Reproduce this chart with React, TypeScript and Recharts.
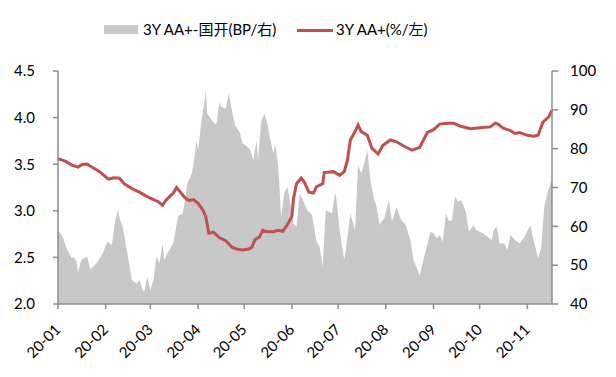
import React from 'react';
import { ComposedChart, Area, Line, XAxis, YAxis, Legend } from 'recharts';

// Days since 2020-01-01 for month starts, and their labels
const monthTicks = [0, 31, 60, 91, 121, 152, 182, 213, 244, 274, 305];
const monthLabels = ['20-01', '20-02', '20-03', '20-04', '20-05', '20-06', '20-07', '20-08', '20-09', '20-10', '20-11'];
const leftTicks = [2.0, 2.5, 3.0, 3.5, 4.0, 4.5];
const rightTicks = [40, 50, 60, 70, 80, 90, 100];

const seriesNames = ['3Y AA+-国开(BP/右)', '3Y AA+(%/左)'];

// 3Y AA+ yield (%), left axis
const yieldDays = [0, 5, 9, 13, 16, 19, 23, 27, 32, 33, 36, 40, 43, 49, 53, 57, 62, 65, 68, 70, 73, 75, 77, 79, 82, 85, 88, 91, 94, 96, 98, 101, 105, 109, 113, 116, 120, 124, 126, 128, 131, 133, 136, 140, 143, 146, 149, 152, 153, 155, 158, 160, 163, 166, 168, 172, 173, 179, 183, 186, 188, 190, 193, 195, 197, 201, 204, 208, 211, 216, 220, 224, 230, 235, 240, 244, 248, 253, 257, 261, 268, 274, 281, 284, 286, 289, 294, 297, 300, 305, 309, 312, 315, 319, 321];
const yieldValues = [3.56, 3.53, 3.49, 3.47, 3.50, 3.50, 3.46, 3.42, 3.35, 3.34, 3.355, 3.35, 3.29, 3.23, 3.20, 3.16, 3.12, 3.10, 3.06, 3.11, 3.16, 3.19, 3.25, 3.21, 3.15, 3.11, 3.12, 3.08, 3.01, 2.94, 2.76, 2.77, 2.71, 2.68, 2.61, 2.59, 2.58, 2.59, 2.61, 2.69, 2.72, 2.79, 2.775, 2.775, 2.79, 2.78, 2.85, 2.94, 3.13, 3.29, 3.35, 3.31, 3.20, 3.19, 3.26, 3.29, 3.41, 3.42, 3.38, 3.42, 3.54, 3.76, 3.85, 3.92, 3.85, 3.81, 3.67, 3.61, 3.70, 3.76, 3.74, 3.70, 3.65, 3.68, 3.84, 3.87, 3.93, 3.94, 3.94, 3.91, 3.88, 3.89, 3.90, 3.94, 3.93, 3.89, 3.86, 3.83, 3.84, 3.81, 3.80, 3.81, 3.95, 4.01, 4.08];

// 3Y AA+ minus CDB spread (BP), right axis
const spreadDays = [0, 3, 6, 9, 10, 12, 13, 15, 17, 19, 21, 25, 29, 32, 35, 37, 39, 40, 42, 44, 48, 51, 53, 55, 56, 58, 60, 62, 64, 66, 68, 69, 71, 75, 78, 81, 83, 84, 87, 89, 90, 91, 93, 95, 96, 97, 100, 102, 103, 105, 106, 109, 111, 113, 115, 118, 120, 122, 125, 127, 129, 130, 132, 134, 136, 138, 140, 141, 143, 145, 147, 149, 151, 153, 155, 157, 159, 162, 165, 168, 170, 172, 174, 178, 180, 181, 183, 186, 187, 190, 193, 195, 197, 199, 201, 203, 205, 207, 209, 210, 212, 215, 217, 220, 223, 226, 229, 231, 235, 238, 242, 244, 246, 248, 250, 252, 254, 256, 258, 260, 262, 265, 267, 270, 272, 276, 282, 283, 285, 287, 290, 292, 294, 297, 300, 303, 307, 309, 312, 314, 316, 318, 321];
const spreadValues = [59.0, 57.3, 53.9, 51.8, 52.2, 50.9, 47.9, 51.3, 51.8, 52.2, 48.9, 50.5, 53.0, 56.0, 55.2, 61.2, 64.4, 62.0, 59.9, 55.6, 46.2, 45.3, 46.2, 43.6, 43.2, 47.0, 43.6, 46.2, 52.2, 50.5, 55.6, 51.3, 53.0, 55.6, 62.7, 63.3, 67.6, 71.0, 73.6, 78.7, 82.2, 79.6, 86.5, 91.6, 95.0, 89.0, 87.3, 86.3, 86.5, 92.0, 90.7, 90.3, 94.2, 89.9, 86.0, 84.3, 81.3, 80.9, 79.6, 77.0, 82.2, 77.0, 86.9, 89.0, 86.5, 82.2, 78.7, 81.3, 76.2, 62.5, 68.5, 70.2, 65.9, 60.7, 59.9, 68.5, 66.8, 64.2, 63.0, 56.0, 54.7, 49.6, 64.2, 63.3, 68.9, 66.8, 59.0, 51.3, 53.9, 63.3, 59.0, 75.7, 73.6, 76.2, 79.6, 71.9, 67.6, 65.0, 60.3, 61.2, 62.0, 66.8, 61.2, 65.0, 61.6, 60.3, 56.5, 51.3, 47.5, 52.2, 58.6, 58.2, 56.9, 57.8, 56.0, 63.3, 61.4, 61.6, 67.6, 66.3, 66.8, 63.7, 58.6, 60.3, 59.0, 58.2, 56.5, 59.0, 59.9, 55.6, 55.6, 53.9, 57.8, 56.5, 55.6, 57.3, 60.3, 56.5, 51.8, 54.7, 65.0, 68.5, 72.3];

type Row = { day: number; yield?: number; spread?: number };
const rowMap = new Map<number, Row>();
yieldDays.forEach((d, i) => {
  const r = rowMap.get(d) || { day: d };
  r.yield = yieldValues[i];
  rowMap.set(d, r);
});
spreadDays.forEach((d, i) => {
  const r = rowMap.get(d) || { day: d };
  r.spread = spreadValues[i];
  rowMap.set(d, r);
});
const rows = Array.from(rowMap.values()).sort((a, b) => a.day - b.day);

const FONT = 'Lato, "Noto Sans CJK SC", sans-serif';
const AXIS = '#8c8c8c';
const RED = '#c0504d';
const GRAY = '#c8c8c8';

const MonthTick = (props: any) => {
  const { x, y, payload } = props;
  const idx = monthTicks.indexOf(payload.value);
  return (
    <g transform={`translate(${x},${y + 16})`}>
      <text x={0} y={0} textAnchor="end" transform="rotate(-45)" fontSize={15} fill="#000" fontFamily={FONT} dy={5}>
        {idx >= 0 ? monthLabels[idx] : ''}
      </text>
    </g>
  );
};

const LegendContent = () => (
  <div style={{ position: 'relative', width: 600, height: 63, fontFamily: FONT, fontSize: 15, color: '#000' }}>
    <div style={{ position: 'absolute', left: 96, top: 17, width: 34, height: 9, background: GRAY }} />
    <div style={{ position: 'absolute', left: 135, top: 12, lineHeight: '18px', whiteSpace: 'nowrap' }}>{seriesNames[0]}</div>
    <div style={{ position: 'absolute', left: 289, top: 21, width: 36, height: 3, background: RED }} />
    <div style={{ position: 'absolute', left: 328, top: 12, lineHeight: '18px', whiteSpace: 'nowrap' }}>{seriesNames[1]}</div>
  </div>
);

export default function App() {
  return (
    <div style={{ width: 600, height: 361, fontFamily: FONT }}>
      <ComposedChart width={600} height={361} data={rows} margin={{ top: 0, right: 10, bottom: 5, left: 0 }}>
        <Legend verticalAlign="top" align="left" height={63} content={<LegendContent />} />
        <XAxis
          dataKey="day"
          type="number"
          domain={[0, 321]}
          ticks={monthTicks}
          interval={0}
          height={60}
          stroke={AXIS}
          strokeWidth={1.5}
          tickSize={5}
          tick={<MonthTick />}
        />
        <YAxis
          yAxisId="left"
          orientation="left"
          domain={[2, 4.5]}
          ticks={leftTicks}
          interval={0}
          width={50}
          stroke={AXIS}
          strokeWidth={1.5}
          tickSize={5}
          tickMargin={18}
          tickFormatter={(v: number) => v.toFixed(1)}
          tick={{ fill: '#000', fontSize: 15, fontFamily: FONT }}
        />
        <YAxis
          yAxisId="right"
          orientation="right"
          domain={[40, 100]}
          ticks={rightTicks}
          interval={0}
          width={46}
          stroke={AXIS}
          strokeWidth={1.5}
          tickSize={6}
          tickMargin={12}
          tick={{ fill: '#000', fontSize: 15, fontFamily: FONT, textAnchor: 'start' }}
        />
        <Area
          yAxisId="right"
          dataKey="spread"
          type="linear"
          stroke="none"
          fill={GRAY}
          fillOpacity={1}
          connectNulls
          isAnimationActive={false}
          dot={false}
          activeDot={false}
        />
        <Line
          yAxisId="left"
          dataKey="yield"
          type="linear"
          stroke={RED}
          strokeWidth={3}
          connectNulls
          dot={false}
          activeDot={false}
          isAnimationActive={false}
        />
      </ComposedChart>
    </div>
  );
}
